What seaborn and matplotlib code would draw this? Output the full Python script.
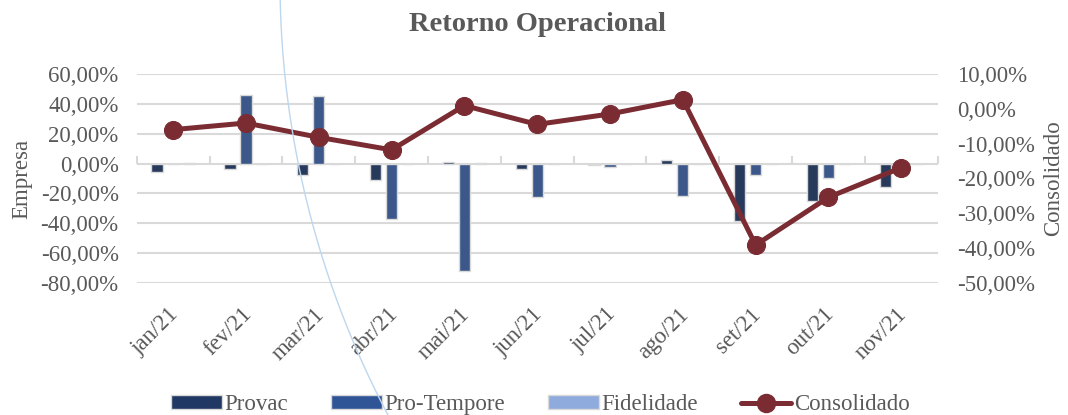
import numpy as np
import pandas as pd
import matplotlib
matplotlib.use("Agg")
import matplotlib.pyplot as plt
import matplotlib.ticker as mticker
import matplotlib.transforms as mtransforms
from matplotlib.patches import Patch
from matplotlib.lines import Line2D
import seaborn as sns

# ── Data ──────────────────────────────────────────────────────────────────────

meses = ["jan/21", "fev/21", "mar/21", "abr/21", "mai/21", "jun/21",
         "jul/21", "ago/21", "set/21", "out/21", "nov/21"]
provac = [-5.5, -4.0, -7.8, -11.0, 1.0, -4.0, -0.8, 2.5, -38.5, -25.0, -16.0]
pro_tempore = [-0.5, 46.0, 45.5, -37.0, -72.0, -22.5, -2.2, -22.0, -7.4, -10.0, 0.0]
fidelidade = [0.3, 0.0, 0.0, 0.0, 0.5, 0.0, -0.5, 0.0, 0.0, 0.0, 0.0]
consolidado = [-6.0, -4.1, -8.2, -11.8, 0.9, -4.5, -1.5, 2.6, -39.1, -25.4, -16.9]

empresas = ["Provac", "Pro-Tempore", "Fidelidade"]

# ── Style ─────────────────────────────────────────────────────────────────────

COLORS = {
    "Provac":      "#203864",
    "Pro-Tempore": "#2F5597",
    "Fidelidade":  "#8FAADC",
    "Consolidado": "#7B2C33",
    "text":        "#595959",
    "grid":        "#D9D9D9",
}
FS = 16.5
SERIF = ["Liberation Serif", "DejaVu Serif"]

sns.set_theme(style="white")
plt.rcParams["font.family"] = SERIF

pct = mticker.FuncFormatter(lambda v, p: f"{v:.2f}%".replace(".", ","))

df = pd.DataFrame({
    "mes": meses * 3,
    "empresa": sum([[e] * len(meses) for e in empresas], []),
    "valor": provac + pro_tempore + fidelidade,
})

fig = plt.figure(figsize=(10.68, 4.15), dpi=100)
ax = fig.add_axes([0.128, 0.318, 0.750, 0.504])

sns.barplot(data=df, x="mes", y="valor", hue="empresa", order=meses,
            hue_order=empresas, palette=COLORS, width=0.66, gap=0.3,
            edgecolor=COLORS["grid"], linewidth=1, legend=False, ax=ax,
            zorder=3)

ax.set_ylim(-80, 60)
ax.yaxis.set_major_locator(mticker.MultipleLocator(20))
ax.yaxis.set_major_formatter(pct)
ax.grid(axis="y", color=COLORS["grid"], linewidth=1.5, zorder=0)
ax.set_axisbelow(True)
for s in ax.spines.values():
    s.set_visible(False)
ax.set_xlim(-0.5, len(meses) - 0.5)
ax.set_xlabel("")
ax.set_ylabel("Empresa", fontsize=FS, color=COLORS["text"], labelpad=6)
ax.tick_params(axis="both", length=0, labelsize=FS, labelcolor=COLORS["text"])
ax.tick_params(axis="y", pad=13)
ax.tick_params(axis="x", pad=15)
shift = mtransforms.ScaledTranslation(-0.05, 0, fig.dpi_scale_trans)
for lbl in ax.get_xticklabels():
    lbl.set_rotation(45)
    lbl.set_ha("right")
    lbl.set_va("top")
    lbl.set_rotation_mode("anchor")
    lbl.set_transform(lbl.get_transform() + shift)

# horizontal axis through 0 with category-boundary ticks
zero = ax.secondary_xaxis(80 / 140)
zero.set_xticks(np.arange(len(meses) + 1) - 0.5)
zero.set_xticklabels([])
zero.tick_params(direction="out", length=6, width=1.5, color=COLORS["grid"])
zero.spines["bottom"].set_color(COLORS["grid"])
zero.spines["bottom"].set_linewidth(1.5)
for k in ["top", "left", "right"]:
    zero.spines[k].set_visible(False)

# consolidated line on the right axis
ax2 = ax.twinx()
sns.lineplot(x=np.arange(len(meses)), y=consolidado, color=COLORS["Consolidado"],
             linewidth=3.6, marker="o", markersize=13,
             markeredgecolor=COLORS["Consolidado"], ax=ax2, zorder=5)
ax2.set_ylim(-50, 10)
ax2.yaxis.set_major_locator(mticker.MultipleLocator(10))
ax2.yaxis.set_major_formatter(pct)
for s in ax2.spines.values():
    s.set_visible(False)
ax2.grid(False)
ax2.tick_params(axis="y", length=0, labelsize=FS, labelcolor=COLORS["text"],
                pad=14)
ax2.set_ylabel("Consolidado", fontsize=FS, color=COLORS["text"], labelpad=6)

fig.text(0.503, 0.94, "Retorno Operacional", ha="center", va="center",
         fontsize=20.5, fontweight="bold", color=COLORS["text"])

handles = [Patch(facecolor=COLORS[e], edgecolor=COLORS["grid"], label=e)
           for e in empresas]
handles.append(Line2D([0], [0], color=COLORS["Consolidado"], lw=3.6,
                      marker="o", markersize=13, label="Consolidado"))
leg = fig.legend(handles=handles, loc="lower center", ncol=4, frameon=False,
                 bbox_to_anchor=(0.506, -0.05),
                 prop={"family": SERIF, "size": FS},
                 handlelength=2.2, handleheight=0.5, columnspacing=1.9,
                 handletextpad=0.1)
for t in leg.get_texts():
    t.set_color(COLORS["text"])

# faint background arc from the source document
deco = fig.add_axes([0, 0, 1, 1], zorder=10)
deco.set_xlim(0, 1068)
deco.set_ylim(415, 0)
deco.axis("off")
yy = np.linspace(0, 415, 120)
deco.plot(1210 - np.sqrt(930 ** 2 - (yy + 20) ** 2), yy,
          color="#BDD7EE", lw=1)

fig.savefig("out.png", dpi=100)
